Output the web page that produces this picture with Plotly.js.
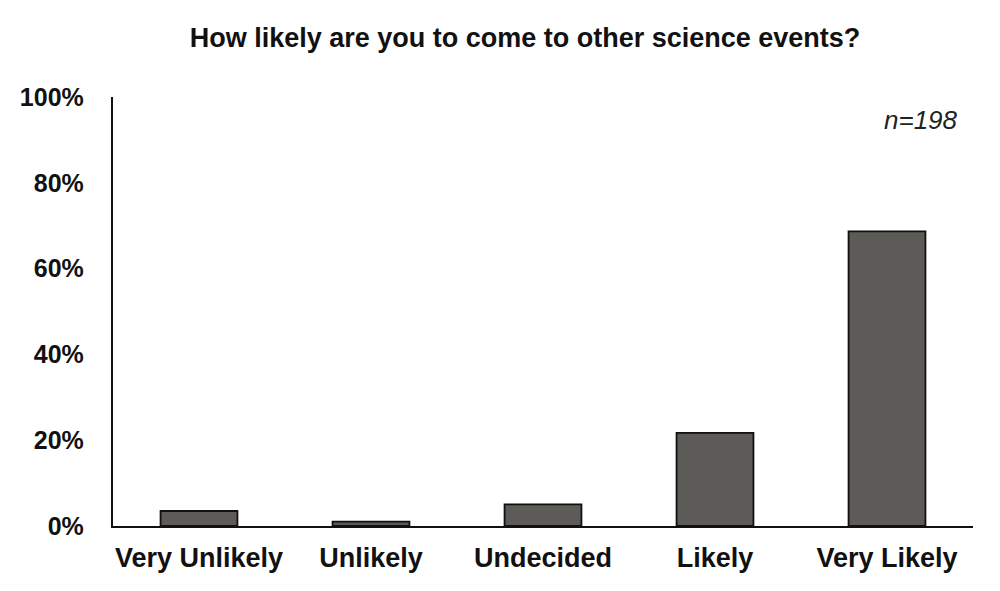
<!DOCTYPE html>
<html>
<head>
<meta charset="utf-8">
<script src="https://cdn.plot.ly/plotly-3.0.1.min.js"></script>
<style>html,body{margin:0;padding:0;background:#fff;}#chart{width:1000px;height:591px;}</style>
</head>
<body>
<div id="chart"></div>
<script>
const categories = ["Very Unlikely", "Unlikely", "Undecided", "Likely", "Very Likely"];
const shares = [0.035, 0.010, 0.0505, 0.217, 0.687];
const yTickValues = [0, 0.2, 0.4, 0.6, 0.8, 1.0];
const yTickLabels = ["0%", "20%", "40%", "60%", "80%", "100%"];
const titleText = "How likely are you to come to other science events?";
const noteText = "<i>n=198</i>";

const fontFam = "Liberation Sans, Arial, sans-serif";

Plotly.newPlot("chart", [{
  type: "bar",
  x: categories,
  y: shares,
  width: 0.447,
  marker: {color: "#5d5b57", line: {color: "#111111", width: 1.8}},
  hoverinfo: "skip"
}], {
  width: 1000, height: 591,
  margin: {l: 113, r: 27, t: 97, b: 65},
  paper_bgcolor: "#ffffff", plot_bgcolor: "#ffffff",
  showlegend: false,
  title: {text: "<b>" + titleText + "</b>", x: 0.525, xanchor: "center", y: 0.936, yanchor: "middle",
          font: {family: fontFam, size: 27, color: "#111111"}},
  xaxis: {
    range: [-0.5, 4.5], showline: true, linecolor: "#111111", linewidth: 2.2,
    ticks: "", showgrid: false, zeroline: false, ticklabelstandoff: 6,
    tickfont: {family: fontFam, size: 27, color: "#111111", weight: "bold"}
  },
  yaxis: {
    range: [0, 1], showline: true, linecolor: "#111111", linewidth: 2.2,
    ticks: "", showgrid: false, zeroline: false, ticklabelstandoff: 22,
    tickvals: yTickValues, ticktext: yTickLabels,
    tickfont: {family: fontFam, size: 25, color: "#111111", weight: "bold"}
  },
  annotations: [{
    text: noteText, xref: "paper", yref: "paper", x: 0.985, y: 0.946,
    xanchor: "right", yanchor: "middle", showarrow: false,
    font: {family: fontFam, size: 26, color: "#222222"}
  }]
}, {staticPlot: true});
</script>
</body>
</html>
